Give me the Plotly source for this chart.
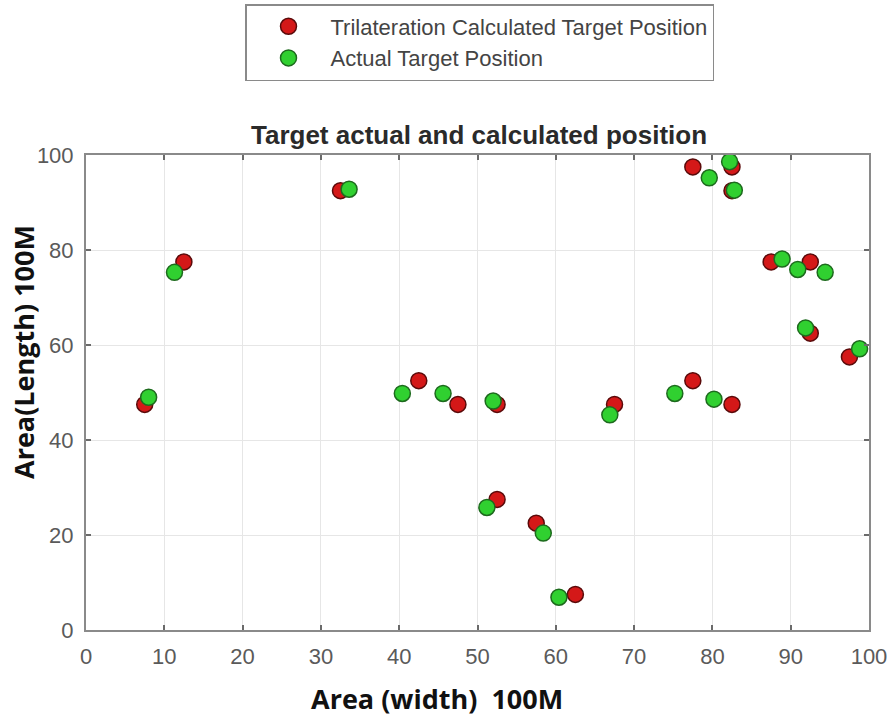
import plotly.graph_objects as go

# Positions computed by trilateration (metres)
calc_x = [7.5, 12.5, 32.5, 42.5, 47.5, 52.5, 52.5, 57.5, 62.5, 67.5,
          77.5, 82.5, 82.5, 87.5, 92.5, 92.5, 97.5, 77.5, 82.5]
calc_y = [47.5, 77.5, 92.5, 52.5, 47.5, 47.5, 27.5, 22.5, 7.5, 47.5,
          97.5, 97.5, 92.5, 77.5, 77.5, 62.5, 57.5, 52.5, 47.5]

# Actual target positions (metres)
act_x = [8.0, 11.3, 33.6, 40.4, 45.6, 52.0, 66.9, 75.2, 51.2, 58.4,
         60.4, 79.6, 82.2, 82.8, 88.9, 90.9, 94.4, 91.9, 98.8, 80.2]
act_y = [49.0, 75.3, 92.8, 49.8, 49.8, 48.2, 45.3, 49.8, 25.8, 20.4,
         6.9, 95.2, 98.6, 92.6, 78.1, 75.9, 75.3, 63.6, 59.2, 48.6]

tick_vals_x = list(range(0, 101, 10))
tick_vals_y = list(range(0, 101, 20))

fig = go.Figure()
fig.add_trace(go.Scatter(
    x=calc_x, y=calc_y, mode="markers",
    name="Trilateration Calculated Target Position", legendgroup="calc",
    marker=dict(size=16, color="#d41818", line=dict(color="#5a0a0a", width=1.5)),
))
fig.add_trace(go.Scatter(
    x=act_x, y=act_y, mode="markers",
    name="Actual Target Position", legendgroup="act",
    marker=dict(size=16, color="#30d030", line=dict(color="#1d6a1d", width=1.5)),
))

axis_common = dict(
    showgrid=True, gridcolor="#e6e6e6", gridwidth=1,
    showline=True, linecolor="#8a8a8a", linewidth=2, mirror="ticks",
    ticks="inside", ticklen=5, tickcolor="#6a6a6a", tickwidth=1.5,
    zeroline=False,
    tickfont=dict(family="Liberation Sans, Arial, sans-serif", size=22, color="#5a5a5a"),
)

fig.update_layout(
    width=894, height=720,
    margin=dict(l=86, r=25, t=155, b=90, autoexpand=False),
    paper_bgcolor="white", plot_bgcolor="white",
    title=dict(
        text="<b>Target actual and calculated position</b>",
        font=dict(family="Liberation Sans, Arial, sans-serif", size=26, color="#2a2a2a"),
        x=(479 - 86) / 783, xanchor="center", xref="paper",
        y=1 - 135 / 720, yanchor="middle",
    ),
    xaxis=dict(range=[0, 100], tickvals=tick_vals_x, ticklabelstandoff=6, **axis_common),
    yaxis=dict(range=[0, 100], tickvals=tick_vals_y, ticklabelstandoff=6, **axis_common),
    showlegend=True,
    legend=dict(
        x=(245 - 86) / 783, xanchor="left", y=(630 - 4) / 475, yanchor="top",
        bordercolor="#8a8a8a", borderwidth=1.5, bgcolor="white",
        font=dict(family="Liberation Sans, Arial, sans-serif", size=22, color="#444444"),
        itemwidth=74, traceorder="grouped", tracegroupgap=0,
    ),
    annotations=[
        dict(text="<b>Area (width)  100M</b>", xref="paper", yref="paper",
             x=(437 - 86) / 783, y=(630 - 698) / 475, xanchor="center", yanchor="middle",
             showarrow=False,
             font=dict(family="Open Sans, sans-serif", size=27, color="#111111")),
        dict(text="<b>Area(Length) 100M</b>", xref="paper", yref="paper",
             x=(23 - 86) / 783, y=(630 - 352) / 475, xanchor="center", yanchor="middle",
             textangle=-90, showarrow=False,
             font=dict(family="Open Sans, sans-serif", size=27, color="#111111")),
    ],
)

fig.write_html("out.html")
